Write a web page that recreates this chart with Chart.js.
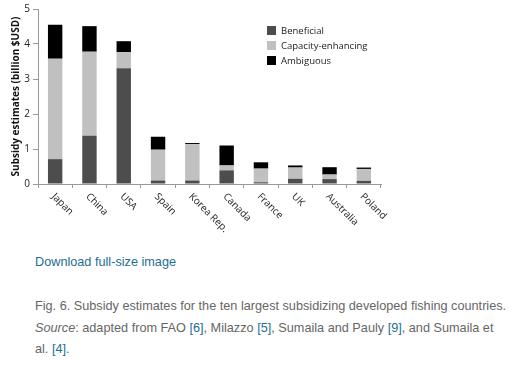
<!DOCTYPE html>
<html>
<head>
    <title>Subsidy estimates</title>
    <script src="https://cdn.jsdelivr.net/npm/chart.js"></script>
    <style>
        body {
            margin: 0;
            background: #fff;
            font-family: "Liberation Sans", Arial, sans-serif;
        }
        #wrap {
            position: relative;
            width: 531px;
            height: 240px;
        }
        #legend {
            position: absolute;
            left: 267px;
            top: 23px;
            font: 9.5px "Open Sans", sans-serif;
            color: #222;
        }
        #legend div {
            height: 15px;
            display: flex;
            align-items: center;
        }
        #legend .box {
            width: 9px;
            height: 9px;
            margin-right: 5px;
        }
        .link {
            position: absolute;
            left: 35px;
            top: 255px;
            color: #1d6e8f;
            font-size: 12.7px;
        }
        .caption {
            position: absolute;
            left: 35px;
            top: 296px;
            color: #666;
            font-size: 12.7px;
            line-height: 21.7px;
        }
        .caption a { color: #1d6e8f; }
    </style>
</head>
<body>
    <div id="wrap">
        <canvas id="chart" width="531" height="240"></canvas>
        <div id="legend"></div>
    </div>
    <div class="link">Download full-size image</div>
    <div class="caption">
        Fig. 6. Subsidy estimates for the ten largest subsidizing developed fishing countries.<br>
        <i>Source</i>: adapted from FAO <a>[6]</a>, Milazzo <a>[5]</a>, Sumaila and Pauly <a>[9]</a>, and Sumaila et<br>
        al. <a>[4]</a>.
    </div>

    <script>
        const countries = ['Japan', 'China', 'USA', 'Spain', 'Korea Rep.', 'Canada', 'France', 'UK', 'Australia', 'Poland'];
        const beneficial = [0.71, 1.38, 3.31, 0.10, 0.10, 0.39, 0.05, 0.15, 0.14, 0.09];
        const capacityEnhancing = [2.87, 2.40, 0.46, 0.88, 1.04, 0.14, 0.39, 0.32, 0.13, 0.34];
        const ambiguous = [0.97, 0.73, 0.31, 0.37, 0.03, 0.57, 0.18, 0.06, 0.21, 0.04];
        const yMax = 5;

        const series = [
            { label: 'Beneficial', data: beneficial, color: '#4d4d4d' },
            { label: 'Capacity-enhancing', data: capacityEnhancing, color: '#c0c0c0' },
            { label: 'Ambiguous', data: ambiguous, color: '#000000' }
        ];

        // x labels slanted down to the right, like the original figure
        const slantedLabels = {
            id: 'slantedLabels',
            afterDraw(chart) {
                const x = chart.scales.x;
                const ctx = chart.ctx;
                ctx.save();
                ctx.font = '10px "Open Sans"';
                ctx.fillStyle = '#222';
                ctx.textAlign = 'left';
                ctx.textBaseline = 'middle';
                countries.forEach((c, i) => {
                    ctx.save();
                    ctx.translate(x.getPixelForValue(i) - 2, x.top + 11);
                    ctx.rotate(Math.PI / 4);
                    ctx.fillText(c, 0, 0);
                    ctx.restore();
                });
                ctx.restore();
            }
        };

        const ctx = document.getElementById('chart').getContext('2d');
        const chart = new Chart(ctx, {
            type: 'bar',
            data: {
                labels: countries,
                datasets: series.map(s => ({
                    label: s.label,
                    data: s.data,
                    backgroundColor: s.color,
                    borderWidth: 0,
                    barPercentage: 0.42,
                    categoryPercentage: 1
                }))
            },
            options: {
                responsive: false,
                animation: false,
                layout: { padding: { top: 9, right: 150, bottom: 0, left: 0 } },
                plugins: {
                    legend: { display: false },
                    tooltip: { enabled: false }
                },
                scales: {
                    x: {
                        stacked: true,
                        grid: { drawOnChartArea: false, offset: true, tickLength: 4, color: '#999' },
                        border: { color: '#999' },
                        ticks: { display: false },
                        afterFit(s) { s.height = 56; }
                    },
                    y: {
                        stacked: true,
                        min: 0,
                        max: yMax,
                        ticks: { stepSize: 1, font: { family: 'Open Sans', size: 10 }, color: '#222', padding: 3 },
                        grid: { drawOnChartArea: false, tickLength: 5, color: '#999' },
                        border: { color: '#999' },
                        title: {
                            display: true,
                            text: 'Subsidy estimates (billion $USD)',
                            font: { family: 'Open Sans', size: 10, weight: 'bold' },
                            color: '#111',
                            padding: { top: 10, bottom: 0 }
                        },
                        afterFit(s) { s.width = 38; }
                    }
                }
            },
            plugins: [slantedLabels]
        });

        const legend = document.getElementById('legend');
        series.forEach(s => {
            const row = document.createElement('div');
            row.innerHTML = '<span class="box" style="background:' + s.color + '"></span>' + s.label;
            legend.appendChild(row);
        });
    </script>
</body>
</html>
